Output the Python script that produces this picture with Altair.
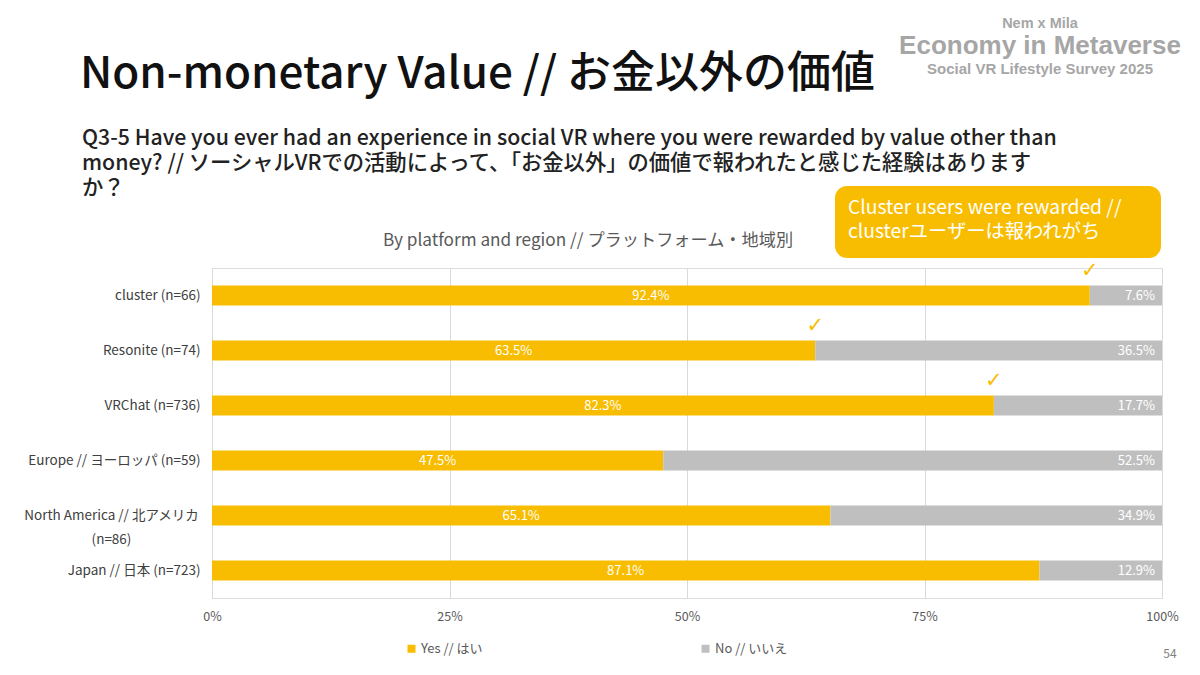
import altair as alt
import pandas as pd

categories = [
    "cluster (n=66)",
    "Resonite (n=74)",
    "VRChat (n=736)",
    "Europe // ヨーロッパ (n=59)",
    "North America // 北アメリカ (n=86)",
    "Japan // 日本 (n=723)",
]
yes_vals = [92.4, 63.5, 82.3, 47.5, 65.1, 87.1]
no_vals = [7.6, 36.5, 17.7, 52.5, 34.9, 12.9]
series = ["Yes // はい", "No // いいえ"]
checked = ["cluster (n=66)", "Resonite (n=74)", "VRChat (n=736)"]
x_ticks = [0, 25, 50, 75, 100]

YEL = "#F8BD00"
GRY = "#BFBFBF"
JP = "Noto Sans CJK JP"

rows = []
for c, y, n in zip(categories, yes_vals, no_vals):
    rows.append({"cat": c, "series": series[0], "val": y, "ord": 0})
    rows.append({"cat": c, "series": series[1], "val": n, "ord": 1})
df = pd.DataFrame(rows)

yes_df = pd.DataFrame({"cat": categories, "val": yes_vals,
                       "mid": [v / 2 for v in yes_vals],
                       "lab": [f"{v:.1f}%" for v in yes_vals]})
no_df = pd.DataFrame({"cat": categories, "val": no_vals, "end": [100] * len(no_vals),
                      "lab": [f"{v:.1f}%" for v in no_vals]})
chk_df = yes_df[yes_df["cat"].isin(checked)].copy()
chk_df["mark"] = "✓"

NA = categories[4]
is_na = f"datum.value == '{NA}'"
label_expr = f"{is_na} ? ['North America // 北アメリカ', '(n=86)'] : datum.label"

y_enc = alt.Y("cat:N", sort=categories, title=None,
              scale=alt.Scale(paddingInner=0.64, paddingOuter=0.32),
              axis=alt.Axis(labelExpr=label_expr, labelFont=JP, labelFontSize=13.5,
                            labelColor="#404040",
                            labelPadding={"condition": {"test": is_na, "value": 101}, "value": 12},
                            labelAlign={"condition": {"test": is_na, "value": "center"}, "value": "right"},
                            ticks=False, domainColor="#D9D9D9", labelLineHeight=24,
                            labelLimit=300))

bars = alt.Chart(df).mark_bar().encode(
    x=alt.X("val:Q", stack="zero", scale=alt.Scale(domain=[0, 100]), title=None,
            axis=alt.Axis(values=x_ticks, labelExpr="datum.value + '%'", grid=True,
                          gridColor="#D9D9D9", domain=False, ticks=False, labelFlush=False,
                          labelFont=JP, labelFontSize=12.5, labelColor="#595959",
                          labelPadding=12)),
    y=y_enc,
    color=alt.Color("series:N", scale=alt.Scale(domain=series, range=[YEL, GRY]),
                    legend=alt.Legend(title=None, orient="none", legendX=193, legendY=374,
                                      direction="horizontal", symbolType="square",
                                      symbolSize=64, labelFont=JP, labelFontSize=13,
                                      labelColor="#595959", columnPadding=216,
                                      labelOffset=3)),
    order=alt.Order("ord:Q"),
)

yes_txt = alt.Chart(yes_df).mark_text(color="white", font=JP, fontSize=13).encode(
    x="mid:Q", y=alt.Y("cat:N", sort=categories), text="lab:N")
no_txt = alt.Chart(no_df).mark_text(color="white", font=JP, fontSize=13, align="right", dx=-7).encode(
    x="end:Q", y=alt.Y("cat:N", sort=categories), text="lab:N")
chk = alt.Chart(chk_df).mark_text(color=YEL, font="DejaVu Sans", fontSize=21, dy=-25).encode(
    x="val:Q", y=alt.Y("cat:N", sort=categories), text="mark:N")

def txt(s, x, y, **kw):
    return alt.Chart(pd.DataFrame({"t": [s]})).mark_text(**kw).encode(
        text="t:N", x=alt.value(x), y=alt.value(y))

title = txt("Non-monetary Value // お金以外の価値", -132, -180, align="left", baseline="alphabetic",
            font=JP, fontSize=44, fontWeight=500, color="#111111")
question = alt.Chart(pd.DataFrame({"t": [[
    "Q3-5 Have you ever had an experience in social VR where you were rewarded by value other than",
    "money? // ソーシャルVRでの活動によって、「お金以外」の価値で報われたと感じた経験はあります",
    "か？"]]})).mark_text(align="left", baseline="alphabetic", font=JP, fontSize=21.3,
                       fontWeight=500, color="#222222", lineHeight=25).encode(
    text="t:N", x=alt.value(-130), y=alt.value(-123))
subtitle = txt("By platform and region // プラットフォーム・地域別", 376, -27, align="center",
               baseline="middle", font=JP, fontSize=17.2, color="#595959")
box = alt.Chart(pd.DataFrame({"a": [0]})).mark_rect(color=YEL, cornerRadius=12).encode(
    x=alt.value(623), x2=alt.value(949), y=alt.value(-82), y2=alt.value(-10))
box_txt = alt.Chart(pd.DataFrame({"t": [["Cluster users were rewarded //", "clusterユーザーは報われがち"]]})).mark_text(
    align="left", baseline="middle", font=JP, fontSize=19.3, color="white", lineHeight=24).encode(
    text="t:N", x=alt.value(636), y=alt.value(-60))
logo1 = txt("Nem x Mila", 828, -244, align="center", baseline="middle", font="Liberation Sans",
            fontSize=14.5, fontWeight="bold", color="#A6A6A6")
logo2 = txt("Economy in Metaverse", 828, -222, align="center", baseline="middle", font="Liberation Sans",
            fontSize=26, fontWeight="bold", color="#A6A6A6")
logo3 = txt("Social VR Lifestyle Survey 2025", 828, -199, align="center", baseline="middle",
            font="Liberation Sans", fontSize=15, fontWeight="bold", color="#A6A6A6")
page = txt("54", 958, 386, align="center", baseline="middle", font=JP, fontSize=12, color="#808080")

chart = alt.layer(bars, yes_txt, no_txt, chk, title, question, subtitle, box, box_txt,
                  logo1, logo2, logo3, page).properties(
    width=950, height=330,
    autosize=alt.AutoSizeParams(type="none"),
    padding={"left": 204, "top": 260, "right": 30, "bottom": 69},
).configure_view(stroke=None).configure(background="white")

chart.save("out.html", embed_options={"renderer": "svg", "actions": False})
